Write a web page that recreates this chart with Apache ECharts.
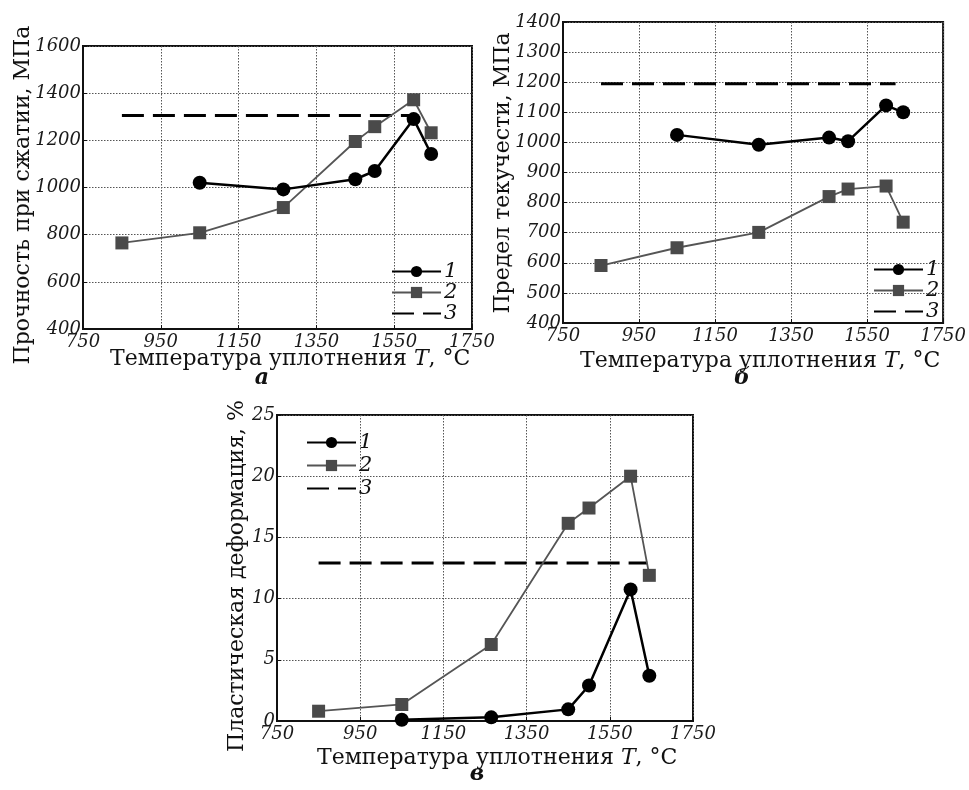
<!DOCTYPE html>
<html><head><meta charset="utf-8">
<script src="https://cdn.jsdelivr.net/npm/echarts@6/dist/echarts.min.js"></script>
<style>html,body{margin:0;padding:0;background:#fff}#c{width:969px;height:790px}</style>
</head><body><div id="c"></div>
<script>
// Temperatures (°C)
var temps2 = [850, 1050, 1265, 1450, 1500, 1600, 1645];
var temps1 = [1050, 1265, 1450, 1500, 1600, 1645];
// Panel а: compressive strength, MPa
var aS1 = [1020, 992, 1035, 1070, 1290, 1142];
var aS2 = [765, 808, 915, 1195, 1258, 1372, 1232];
var aS3 = 1305, aS3x = [850, 1600];
// Panel б: yield strength, MPa
var bS1 = [1025, 992, 1016, 1004, 1123, 1100];
var bS2 = [591, 650, 701, 820, 845, 855, 735];
var bS3 = 1195, bS3x = [850, 1625];
// Panel в: plastic deformation, %
var cS1 = [0.1, 0.3, 0.95, 2.9, 10.75, 3.7];
var cS2 = [0.8, 1.35, 6.25, 16.15, 17.4, 20, 11.9];
var cS3 = 12.9, cS3x = [850, 1640];
// Axis ranges / ticks
var xMin = 750, xMax = 1750, xStep = 200;
var aY = [400, 1600, 200], bY = [400, 1400, 100], cY = [0, 25, 5];
var legendNames = ['1', '2', '3'];
var xTitle = 'Температура уплотнения ';
var yTitles = ['Прочность при сжатии, МПа', 'Предел текучести, МПа', 'Пластическая деформация, %'];
var panelLabels = ['а', 'б', 'в'];

var SERIF = '"DejaVu Serif", "Liberation Serif", serif';
function pairs(xs, ys) { return xs.map(function (x, i) { return [x, ys[i]]; }); }
function plain(v) { return String(v); }

var grids = [
  {left: 83, top: 46, width: 389, height: 283},
  {left: 563, top: 22, width: 391, height: 301},
  {left: 277, top: 415, width: 416, height: 306}
];
var yr = [aY, bY, cY];
var xAxes = [], yAxes = [];
grids.forEach(function (g, i) {
  g.show = true; g.borderColor = '#111'; g.borderWidth = 2; g.containLabel = false;
  xAxes.push({type: 'value', gridIndex: i, min: xMin, max: xMax, interval: xStep,
    axisLine: {lineStyle: {color: '#111', width: 2}},
    axisTick: {show: true, inside: true, length: 4, lineStyle: {color: '#111'}},
    axisLabel: {fontFamily: SERIF, fontStyle: 'italic', fontSize: 18, color: '#1a1a1a', margin: 4,
      showMinLabel: true, showMaxLabel: true, formatter: plain},
    splitLine: {show: true, lineStyle: {type: [1.5, 1.5], color: '#555', width: 1}}
  });
  yAxes.push({type: 'value', gridIndex: i, min: yr[i][0], max: yr[i][1], interval: yr[i][2],
    axisLine: {lineStyle: {color: '#111', width: 2}},
    axisTick: {show: true, inside: true, length: 4, lineStyle: {color: '#111'}},
    axisLabel: {fontFamily: SERIF, fontStyle: 'italic', fontSize: 18, color: '#1a1a1a', margin: 2, formatter: plain},
    splitLine: {show: true, lineStyle: {type: [1.5, 1.5], color: '#555', width: 1}}
  });
});

function s1(idx, ys) {
  return {name: '1', type: 'line', xAxisIndex: idx, yAxisIndex: idx, data: pairs(temps1, ys),
    symbol: 'circle', symbolSize: 14, itemStyle: {color: '#000'},
    lineStyle: {color: '#000', width: 2.5}, z: 4};
}
function s2(idx, ys) {
  return {name: '2', type: 'line', xAxisIndex: idx, yAxisIndex: idx, data: pairs(temps2, ys),
    symbol: 'rect', symbolSize: 13, itemStyle: {color: '#4a4a4a'},
    lineStyle: {color: '#555', width: 1.8}, z: 3};
}
function s3(idx, y, xs) {
  return {name: '3', type: 'line', xAxisIndex: idx, yAxisIndex: idx, data: [[xs[0], y], [xs[1], y]],
    symbol: 'none', itemStyle: {color: '#000', opacity: 0},
    lineStyle: {color: '#000', width: 3, type: [22, 9]}, z: 2};
}

var series = [
  s1(0, aS1), s2(0, aS2), s3(0, aS3, aS3x),
  s1(1, bS1), s2(1, bS2), s3(1, bS3, bS3x),
  s1(2, cS1), s2(2, cS2), s3(2, cS3, cS3x)
];

function legend(left, top, gap) {
  return {orient: 'vertical', left: left, top: top, itemWidth: 49, itemHeight: 14, itemGap: gap,
    data: [legendNames[0], legendNames[1], {name: legendNames[2], itemStyle: {opacity: 0}}],
    selectedMode: false, padding: 0,
    textStyle: {fontFamily: SERIF, fontStyle: 'italic', fontSize: 21, lineHeight: 16, color: '#111', padding: [0, 0, 0, -2]}};
}

var rich = {n: {fontFamily: SERIF, fontSize: 22, fill: '#111'}, i: {fontFamily: SERIF, fontSize: 22, fontStyle: 'italic', fill: '#111'}};
function xt(x, y) {
  return {type: 'text', left: x, top: y, style: {text: '{n|' + xTitle + '}{i|T}{n|, °C}', rich: rich,
    fontFamily: SERIF, fontSize: 22, fill: '#111'}};
}
function yt(cx, cy, t) {
  return {type: 'text', x: cx, y: cy, rotation: Math.PI / 2,
    style: {text: t, fontFamily: SERIF, fontSize: 22, fill: '#111', align: 'center', verticalAlign: 'middle'}};
}
function pl(cx, cy, t) {
  return {type: 'text', x: cx, y: cy, style: {text: t, fontFamily: SERIF, fontSize: 22, fontStyle: 'italic',
    fontWeight: 'bold', fill: '#111', align: 'center', verticalAlign: 'middle'}};
}

var option = {
  backgroundColor: '#fff',
  animation: false,
  grid: grids,
  xAxis: xAxes,
  yAxis: yAxes,
  legend: [legend(391, 261, 0), legend(873, 259, 0), legend(306, 432, 2)],
  series: series,
  graphic: [
    xt(110, 348), xt(580, 350), xt(317, 747),
    yt(23, 195, yTitles[0]), yt(503, 173, yTitles[1]), yt(237, 576, yTitles[2]),
    pl(262, 378, panelLabels[0]), pl(742, 378, panelLabels[1]), pl(477, 774, panelLabels[2])
  ]
};
var chart = echarts.init(document.getElementById('c'));
chart.setOption(option);
</script>
</body></html>
